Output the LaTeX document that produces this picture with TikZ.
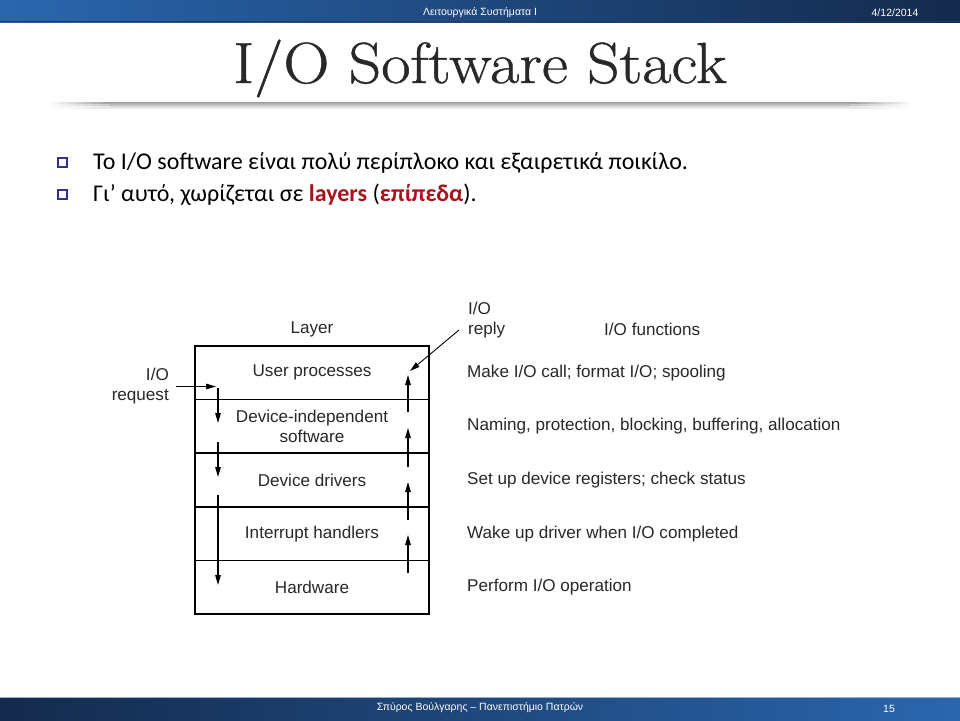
\documentclass[tikz,border=0pt]{standalone}
\usepackage{fontspec}
\newfontfamily\calib{Carlito}
\newfontfamily\arial{Liberation Sans}
\newfontfamily\ttlfont[FakeBold=0.7]{Latin Modern Roman}
\usetikzlibrary{arrows.meta}
\definecolor{hdrL}{RGB}{42,102,174}
\definecolor{hdrR}{RGB}{20,42,76}
\definecolor{bulc}{RGB}{50,50,140}
\definecolor{hired}{RGB}{172,18,28}
\definecolor{figtxt}{RGB}{40,40,40}
\definecolor{ttl}{RGB}{40,40,40}
\tikzset{
  layerbox/.style={draw=black, line width=1.6pt, minimum width=234pt, minimum height=53.6pt,
     inner sep=0pt, align=center, text=figtxt, font=\arial\fontsize{17.1}{20}\selectfont},
  figlabel/.style={inner sep=0pt, text=figtxt, font=\arial\fontsize{17.1}{20}\selectfont},
  flow/.style={line width=1.3pt, -{Triangle[length=10pt,width=5.5pt]}},
  thinflow/.style={line width=0.9pt, -{Triangle[length=10pt,width=5.5pt]}},
  bulletbox/.style={draw=bulc, line width=2.2pt, minimum size=8.8pt, inner sep=0pt},
  bullettext/.style={anchor=base west, inner sep=0pt, font=\calib\fontsize{24}{28}\selectfont},
  bartext/.style={text=white, inner sep=0pt, font=\arial\fontsize{10.5}{12}\selectfont}
}
\begin{document}
\begin{tikzpicture}[x=1pt,y=-1pt]
\useasboundingbox (0,0) rectangle (960,720);
\fill[white] (0,0) rectangle (960,720);
% header bar
\shade[left color=hdrL, right color=hdrR] (0,0) rectangle (960,22);
\draw[hdrL!60!black, line width=0.8pt] (0,21.6) -- (960,21.6);
\node[bartext] (hdr) at (480,13) {Λειτουργικά Συστήματα Ι};
\node[bartext] (date) at (895,13) {4/12/2014};
% title
\node[anchor=base, inner sep=0pt, text=ttl, font=\ttlfont\fontsize{58}{60}\selectfont] (title) at (480,83) {\scalebox{1.1}[1]{I/O Software Stack}};
% title shadow line
\shade[top color=black!38, bottom color=white] (110,102) rectangle (850,109);
\shade[left color=white, right color=black!38] (48,102) rectangle (110,104);
\shade[left color=white, right color=black!22] (48,104) rectangle (110,106);
\shade[left color=white, right color=black!10] (48,106) rectangle (110,108);
\shade[right color=white, left color=black!38] (850,102) rectangle (912,104);
\shade[right color=white, left color=black!22] (850,104) rectangle (912,106);
\shade[right color=white, left color=black!10] (850,106) rectangle (912,108);
% bullets
\node[bulletbox] (b1) at (62.5,162.5) {};
\node[bulletbox] (b2) at (62.5,194.5) {};
\node[bullettext] (t1) at (93,169) {Το I/O software είναι πολύ περίπλοκο και εξαιρετικά ποικίλο.};
\node[bullettext] (t2) at (93,201) {Γι’ αυτό, χωρίζεται σε \textcolor{hired}{\bfseries layers} (\textcolor{hired}{\bfseries επίπεδα}).};
% layers
\node[layerbox] (l1) at (312,372.8) {User processes};
\node[layerbox] (l2) at (312,426.4) {Device-independent\\software};
\node[layerbox] (l3) at (312,480) {Device drivers};
\node[layerbox] (l4) at (312,533.6) {Interrupt handlers};
\node[layerbox] (l5) at (312,587.2) {Hardware};
% headings
\node[figlabel] (layer) at (312,329) {Layer};
\node[figlabel, anchor=west] (funcs) at (604,329) {I/O functions};
\node[figlabel, anchor=east, align=right] (req) at (169,386) {I/O\\request};
\node[figlabel, anchor=west, align=left] (rep) at (468,320.5) {I/O\\reply};
% functions
\node[figlabel, anchor=west] (f1) at (467,372.8) {Make I/O call; format I/O; spooling};
\node[figlabel, anchor=west] (f2) at (467,426.4) {Naming, protection, blocking, buffering, allocation};
\node[figlabel, anchor=west] (f3) at (467,480) {Set up device registers; check status};
\node[figlabel, anchor=west] (f4) at (467,533.6) {Wake up driver when I/O completed};
\node[figlabel, anchor=west] (f5) at (467,587.2) {Perform I/O operation};
% arrow coordinates
\coordinate (rqs) at (176,386.5);
\coordinate (rqe) at (216,386.5);
\coordinate (d1s) at (218,388);
\coordinate (d1e) at (218,423);
\coordinate (d2s) at (218,442);
\coordinate (d2e) at (218,477);
\coordinate (d3s) at (218,495);
\coordinate (d3e) at (218,585);
\coordinate (u1s) at (408,573);
\coordinate (u1e) at (408,535);
\coordinate (u2s) at (408,520);
\coordinate (u2e) at (408,482);
\coordinate (u3s) at (408,467);
\coordinate (u3e) at (408,428);
\coordinate (u4s) at (408,412);
\coordinate (u4e) at (408,375);
\coordinate (rps) at (459,330);
\coordinate (rpe) at (410,371);
\draw[flow] (rqs) -- (rqe);
\draw[flow] (d1s) -- (d1e);
\draw[flow] (d2s) -- (d2e);
\draw[flow] (d3s) -- (d3e);
\draw[flow] (u1s) -- (u1e);
\draw[flow] (u2s) -- (u2e);
\draw[flow] (u3s) -- (u3e);
\draw[flow] (u4s) -- (u4e);
\draw[thinflow] (rps) -- (rpe);
% footer bar
\shade[left color=hdrR, right color=hdrL] (0,697) rectangle (960,720);
\draw[hdrL!50!white, line width=0.6pt] (0,697.3) -- (960,697.3);
\node[bartext] (foot) at (480,708) {Σπύρος Βούλγαρης – Πανεπιστήμιο Πατρών};
\node[bartext] (page) at (889,708.5) {15};
\end{tikzpicture}
\end{document}
